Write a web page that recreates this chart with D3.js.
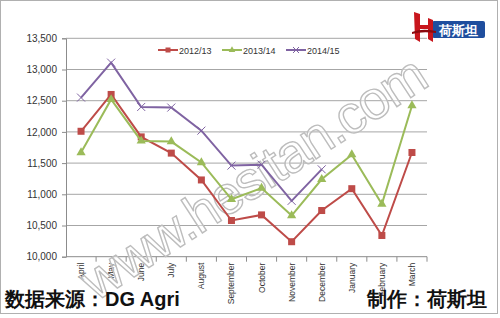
<!DOCTYPE html>
<html>
<head>
<meta charset="utf-8">
<script src="https://cdn.jsdelivr.net/npm/d3@7"></script>
<style>
  body { margin: 0; background: #fff; }
  text { font-family: "Liberation Sans", Arial, sans-serif; }
</style>
</head>
<body>
<div id="chart"></div>
<script>
// months of the marketing year
const months = ["April", "May", "June", "July", "August", "September", "October",
  "November", "December", "January", "February", "March"];

const s2012 = [12010, 12600, 11920, 11660, 11230, 10580, 10670, 10240, 10740, 11090, 10340, 11670];
const s2013 = [11670, 12520, 11855, 11845, 11510, 10920, 11100, 10660, 11240, 11635, 10845, 12420];
const s2014 = [12550, 13110, 12400, 12390, 12020, 11460, 11475, 10895, 11400];

const seriesNames = ["2012/13", "2013/14", "2014/15"];
const yTicks = [10000, 10500, 11000, 11500, 12000, 12500, 13000, 13500];

const series = [
  { name: seriesNames[0], values: s2012, color: "#BE4B48", marker: "square" },
  { name: seriesNames[1], values: s2013, color: "#9BBB59", marker: "triangle" },
  { name: seriesNames[2], values: s2014, color: "#7F63A2", marker: "cross" }
];

const width = 500, height = 318;
const plotL = 66, plotR = 427, plotT = 38.3, plotB = 256.7;

const svg = d3.select("#chart")
  .append("svg")
  .attr("width", width)
  .attr("height", height);

svg.append("rect")
  .attr("x", 0.5).attr("y", 0.5)
  .attr("width", 497).attr("height", 313)
  .attr("fill", "#fff")
  .attr("stroke", "#b0b0b0");

const x = d3.scaleBand().domain(months).range([plotL, plotR]);
const y = d3.scaleLinear().domain([10000, 13500]).range([plotB, plotT]);

// gridlines
svg.append("g")
  .selectAll("line")
  .data(yTicks.slice(1))
  .enter()
  .append("line")
  .attr("x1", plotL).attr("x2", plotR)
  .attr("y1", d => y(d)).attr("y2", d => y(d))
  .attr("stroke", "#a6a6a6")
  .attr("stroke-width", 1);

// y axis
const yAxis = svg.append("g")
  .attr("transform", "translate(" + plotL + ",0)")
  .call(d3.axisLeft(y).tickValues(yTicks).tickFormat(d3.format(",")).tickSize(4).tickPadding(5));
yAxis.select(".domain").attr("stroke", "#8c8c8c");
yAxis.selectAll(".tick line").attr("stroke", "#8c8c8c");
yAxis.selectAll("text").attr("font-size", 10).attr("fill", "#333");

// x axis: ticks at band boundaries
const xAxis = svg.append("g")
  .attr("transform", "translate(0," + plotB + ")");
xAxis.append("line")
  .attr("x1", plotL).attr("x2", plotR)
  .attr("stroke", "#8c8c8c");
xAxis.selectAll(".bt")
  .data(months)
  .enter()
  .append("line")
  .attr("class", "bt")
  .attr("x1", d => x(d) + x.bandwidth()).attr("x2", d => x(d) + x.bandwidth())
  .attr("y1", 0).attr("y2", 5)
  .attr("stroke", "#8c8c8c");
xAxis.selectAll(".lbl")
  .data(months)
  .enter()
  .append("text")
  .attr("class", "lbl")
  .attr("transform", d => "translate(" + (x(d) + x.bandwidth() / 2 + 3) + ",6) rotate(-90)")
  .attr("text-anchor", "end")
  .attr("font-size", 8.5)
  .attr("fill", "#333")
  .text(d => d);

// watermark
svg.append("text")
  .attr("transform", "translate(96,302) rotate(-33)")
  .attr("font-size", 54)
  .attr("font-family", "DejaVu Sans, sans-serif")
  .attr("fill", "#fff")
  .attr("fill-opacity", 0.45)
  .attr("stroke", "#bdbdbd")
  .attr("stroke-width", 1.4)
  .attr("textLength", 400)
  .text("www.hesitan.com");

const line = d3.line()
  .x((d, i) => x(months[i]) + x.bandwidth() / 2)
  .y(d => y(d));

function drawMarker(g, type, color, size) {
  if (type === "square") {
    g.append("rect").attr("x", -size / 2).attr("y", -size / 2)
      .attr("width", size).attr("height", size).attr("fill", color);
  } else if (type === "triangle") {
    g.append("path").attr("d", d3.symbol(d3.symbolTriangle, size * size * 0.75)())
      .attr("fill", color);
  } else {
    const h = size / 2;
    g.append("path").attr("d", "M" + -h + "," + -h + "L" + h + "," + h + "M" + -h + "," + h + "L" + h + "," + -h)
      .attr("stroke", color).attr("stroke-width", 1).attr("fill", "none");
  }
}

series.forEach(s => {
  svg.append("path")
    .datum(s.values)
    .attr("d", line)
    .attr("fill", "none")
    .attr("stroke", s.color)
    .attr("stroke-width", 2);
  const pts = svg.append("g").selectAll("g")
    .data(s.values)
    .enter()
    .append("g")
    .attr("transform", (d, i) => "translate(" + (x(months[i]) + x.bandwidth() / 2) + "," + y(d) + ")");
  pts.each(function() { drawMarker(d3.select(this), s.marker, s.color, s.marker === "cross" ? 8 : 7); });
});

// legend
const legendX = [158, 222, 286];
series.forEach((s, i) => {
  const g = svg.append("g").attr("transform", "translate(" + legendX[i] + ",50)");
  g.append("line").attr("x1", 0).attr("x2", 20).attr("stroke", s.color).attr("stroke-width", 2);
  const m = g.append("g").attr("transform", "translate(10,0)");
  drawMarker(m, s.marker, s.color, s.marker === "cross" ? 6 : 5);
  g.append("text").attr("x", 21).attr("y", 3.5)
    .attr("font-size", 9).attr("fill", "#333").text(s.name);
});

// logo
const logo = svg.append("g").attr("transform", "translate(412,12)");
logo.append("rect").attr("x", 20).attr("y", 9).attr("width", 53).attr("height", 17)
  .attr("rx", 2).attr("fill", "#1f4e9e");
logo.append("path")
  .attr("d", "M2,0 L8,2 L8,13 L16,13 L16,6 L21,8 L21,30 L16,27 L16,17 L8,17 L8,30 L3,27 Z")
  .attr("fill", "#c8161d");
logo.append("path")
  .attr("d", "M0,20 Q10,16 24,19 L24,21 Q10,19 0,22 Z")
  .attr("fill", "#8b0a0f");
logo.append("text").attr("x", 46.5).attr("y", 22.5)
  .attr("text-anchor", "middle")
  .attr("font-family", "Noto Sans CJK SC, sans-serif")
  .attr("font-weight", "bold")
  .attr("font-size", 13)
  .attr("fill", "#fff")
  .text("荷斯坦");

// footer
svg.append("text").attr("x", 5).attr("y", 306)
  .attr("font-family", "Noto Sans CJK SC, sans-serif")
  .attr("font-weight", "bold").attr("font-size", 20)
  .attr("fill", "#111")
  .text("数据来源：DG Agri");
svg.append("text").attr("x", 487).attr("y", 306)
  .attr("text-anchor", "end")
  .attr("font-family", "Noto Sans CJK SC, sans-serif")
  .attr("font-weight", "bold").attr("font-size", 20)
  .attr("fill", "#111")
  .text("制作：荷斯坦");
</script>
</body>
</html>
